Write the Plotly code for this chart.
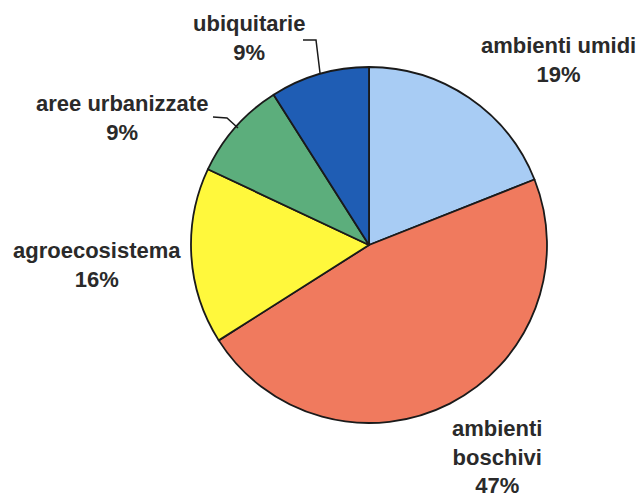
import plotly.graph_objects as go

# Data
categories = ["ambienti umidi", "ambienti boschivi", "agroecosistema", "aree urbanizzate", "ubiquitarie"]
display_labels = ["ambienti umidi", "ambienti<br>boschivi", "agroecosistema", "aree urbanizzate", "ubiquitarie"]
values = [19, 47, 16, 9, 9]
colors = ["#a8ccf4", "#f07a5e", "#fff83c", "#5cae7c", "#1f5db4"]

W, H = 638, 499

fig = go.Figure()
fig.add_trace(go.Pie(
    labels=categories,
    values=values,
    sort=False,
    direction="clockwise",
    rotation=0,
    textinfo="none",
    hoverinfo="label+percent",
    marker=dict(colors=colors, line=dict(color="#1a1a1a", width=1.8)),
    domain=dict(x=[191 / W, 547 / W], y=[1 - 423 / H, 1 - 67 / H]),
    showlegend=False,
))

# label placement (pixel coordinates of label block centers)
label_pos = [(558, 60), (497, 457), (97, 265), (122, 118), (249, 38)]
for lab, val, (px, py) in zip(display_labels, values, label_pos):
    fig.add_annotation(
        x=px / W, y=1 - py / H, xref="paper", yref="paper",
        text=f"<b>{lab}<br>{val}%</b>",
        showarrow=False, align="center",
        xanchor="center", yanchor="middle",
        font=dict(family="Liberation Sans, Arial, sans-serif", size=22, color="#2a2a2a"),
    )

# leader lines
leaders = [
    [(303, 40), (316, 40), (320, 73)],
    [(213, 117), (227, 118), (238, 128)],
]
for pts in leaders:
    path = "M " + " L ".join(f"{x / W} {1 - y / H}" for x, y in pts)
    fig.add_shape(type="path", path=path, xref="paper", yref="paper",
                  line=dict(color="#1a1a1a", width=1.5))

fig.update_layout(
    width=W, height=H,
    margin=dict(l=0, r=0, t=0, b=0),
    paper_bgcolor="white",
    plot_bgcolor="white",
)

fig.write_html("out.html",
               config={"displayModeBar": False},
               post_script="document.body.style.margin='0';document.body.style.overflow='hidden';")
